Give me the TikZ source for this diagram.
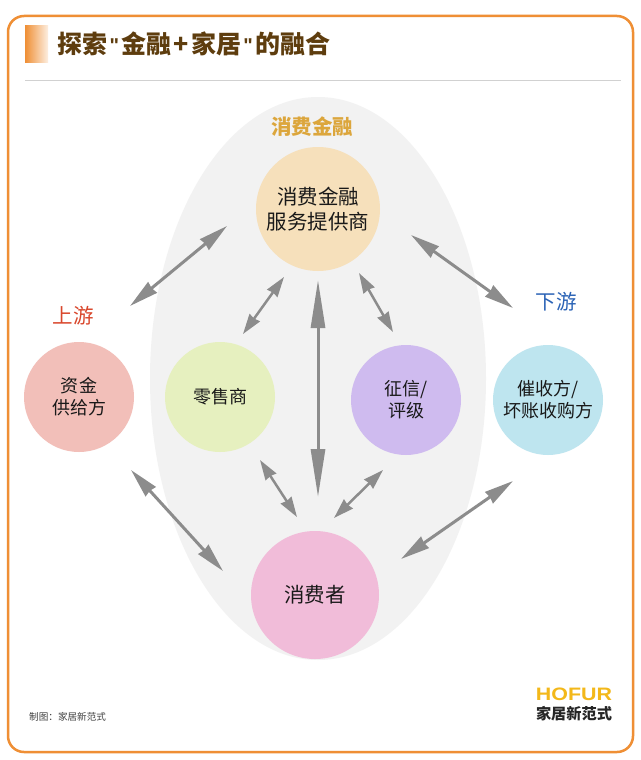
\documentclass[tikz,border=0pt]{standalone}
\usepackage{fontspec}
\setmainfont{Noto Sans CJK SC}
\newfontfamily\latinfont{Liberation Sans}
\usetikzlibrary{arrows.meta}
\definecolor{frameorange}{HTML}{EF8F35}
\definecolor{titlebrown}{HTML}{5E3D0E}
\definecolor{arrowgray}{HTML}{8C8C8C}
\definecolor{ovalgray}{HTML}{F2F2F2}
\definecolor{financefill}{HTML}{F6E0BB}
\definecolor{fundfill}{HTML}{F2BFB9}
\definecolor{retailfill}{HTML}{E6F0BF}
\definecolor{creditfill}{HTML}{CFBBEF}
\definecolor{collectfill}{HTML}{BEE5EF}
\definecolor{consumerfill}{HTML}{F1BCD9}
\definecolor{midgold}{HTML}{DCA63C}
\definecolor{upred}{HTML}{D9472C}
\definecolor{downblue}{HTML}{2B63B6}
\definecolor{logoyellow}{HTML}{F3B81A}
\tikzset{
  party/.style={circle,minimum size=#1,inner sep=0pt,align=center,text=black!90,font=\fontsize{18}{22}\selectfont},
  bigparty/.style={party=#1,font=\fontsize{20.5}{25}\selectfont},
  grouplabel/.style={font=\fontsize{20.5}{24}\selectfont},
  shortway/.style={arrowgray,line width=2.5pt,{Stealth[length=20pt,width=12.5pt,inset=1pt]}-{Stealth[length=20pt,width=12.5pt,inset=1pt]}},
  twoway/.style={arrowgray,line width=3pt,{Stealth[length=29pt,width=13.5pt,inset=1pt]}-{Stealth[length=29pt,width=13.5pt,inset=1pt]}},
  longway/.style={arrowgray,line width=3pt,{Stealth[length=48pt,width=14pt,inset=0pt]}-{Stealth[length=48pt,width=14pt,inset=0pt]}}
}
\newcommand{\straightquote}{\hspace{2.3pt}\raisebox{1.5pt}{\fontsize{20}{24}\selectfont\latinfont\bfseries "}\hspace{2.3pt}}
\begin{document}
\begin{tikzpicture}[x=1pt,y=-1pt]
\useasboundingbox (0,0) rectangle (640,760);
\fill[white] (0,0) rectangle (640,760);
\draw[frameorange,line width=2.5pt,rounded corners=16pt] (8,16) rectangle (633,752);

% title
\shade[left color=frameorange,right color=frameorange!15] (25,26) rectangle (48,63);
\node[anchor=west,inner sep=0pt,text=titlebrown,font=\fontsize{25}{29}\selectfont\bfseries] (title) at (57,44) {探索\straightquote 金融\hspace{2.3pt}+\hspace{2.3pt}家居\straightquote 的融合};
\coordinate (ruleL) at (25,80);
\coordinate (ruleR) at (621,80);
\draw[black!18,line width=0.8pt] (ruleL) -- (ruleR);

\fill[ovalgray] (318,378.5) ellipse [x radius=168,y radius=281.5];

% parties
\node[bigparty=124pt,fill=financefill] (finance) at (318,209) {消费金融\\服务提供商};
\node[party=110pt,fill=fundfill] (fund) at (79,397) {资金\\供给方};
\node[party=110pt,fill=retailfill] (retail) at (220,397) {零售商};
\node[party=110pt,fill=creditfill] (credit) at (406,400) {征信/\\评级};
\node[party=110pt,fill=collectfill] (collect) at (548,400) {催收方/\\坏账收购方};
\node[bigparty=128pt,fill=consumerfill] (consumer) at (315,595) {消费者};

% group labels
\node[grouplabel,text=midgold,font=\fontsize{20.5}{24}\selectfont\bfseries] (midlabel) at (312,127) {消费金融};
\node[grouplabel,text=upred] (uplabel) at (73,316) {上游};
\node[grouplabel,text=downblue] (downlabel) at (556,302) {下游};

% arrow ends
\coordinate (a1) at (130,306);
\coordinate (a2) at (227,226);
\coordinate (b1) at (411,235);
\coordinate (b2) at (513,308);
\coordinate (c1) at (284,277);
\coordinate (c2) at (243,334);
\coordinate (d1) at (359,273);
\coordinate (d2) at (393,332);
\coordinate (e1) at (318,280);
\coordinate (e2) at (318,497);
\coordinate (f1) at (260,460);
\coordinate (f2) at (297,517);
\coordinate (g1) at (383,470);
\coordinate (g2) at (334,518);
\coordinate (h1) at (131,470);
\coordinate (h2) at (223,571);
\coordinate (i1) at (513,481);
\coordinate (i2) at (401,559);

\draw[twoway] (a1) -- (a2);
\draw[twoway] (b1) -- (b2);
\draw[shortway] (c1) -- (c2);
\draw[shortway] (d1) -- (d2);
\draw[longway] (e1) -- (e2);
\draw[shortway] (f1) -- (f2);
\draw[shortway] (g1) -- (g2);
\draw[twoway] (h1) -- (h2);
\draw[twoway] (i1) -- (i2);

% footer
\node[anchor=west,inner sep=0pt,text=black!75,font=\fontsize{9.6}{11}\selectfont] (credits) at (29,717) {制图：家居新范式};
\node[text=logoyellow,inner sep=0pt,xscale=1.19,font=\fontsize{18}{20}\selectfont\latinfont\bfseries] (logoA) at (574,694) {HOFUR};
\node[text=black!85,inner sep=0pt,font=\fontsize{15.2}{17}\selectfont\bfseries] (logoB) at (574,714) {家居新范式};
\end{tikzpicture}
\end{document}
